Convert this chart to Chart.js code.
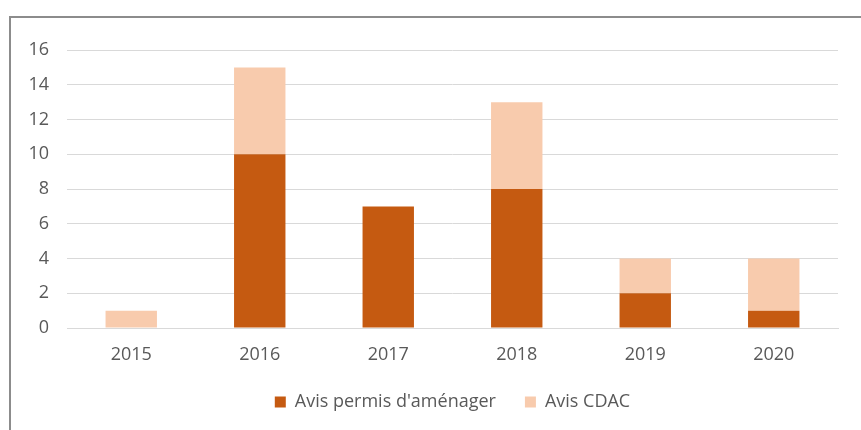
<!DOCTYPE html>
<html>
<head>
<meta charset="utf-8">
<script src="https://cdn.jsdelivr.net/npm/chart.js@4"></script>
<style>
  html, body { margin: 0; padding: 0; background: #fff; overflow: hidden; }
  #wrap { position: relative; width: 861px; height: 430px; }
  #frame { position: absolute; left: 9px; top: 16px; width: 900px; height: 500px; border: 2px solid #8c8c8c; box-sizing: border-box; }
  canvas { position: absolute; left: 0; top: 0; }
</style>
</head>
<body>
<div id="wrap">
  <div id="frame"></div>
  <canvas id="chart" width="861" height="430"></canvas>
</div>
<script>
// Data
const years = ['2015', '2016', '2017', '2018', '2019', '2020'];
const avisPermis = [0, 10, 7, 8, 2, 1];
const avisCdac = [1, 5, 0, 5, 2, 3];
const yTicks = [0, 2, 4, 6, 8, 10, 12, 14, 16];

const textColor = '#595959';
const font = { family: "'Open Sans', sans-serif", size: 18 };

new Chart(document.getElementById('chart').getContext('2d'), {
    type: 'bar',
    data: {
        labels: years,
        datasets: [{
            label: "Avis permis d'aménager",
            data: avisPermis,
            backgroundColor: '#C55A11',
            barPercentage: 0.8,
            categoryPercentage: 0.5
        }, {
            label: 'Avis CDAC',
            data: avisCdac,
            backgroundColor: '#F8CBAD',
            barPercentage: 0.8,
            categoryPercentage: 0.5
        }]
    },
    options: {
        responsive: false,
        animation: false,
        layout: { padding: { left: 20, right: 23, top: 50, bottom: 9 } },
        plugins: {
            legend: {
                position: 'bottom',
                fullSize: false,
                labels: { color: textColor, font: font, boxWidth: 11, boxHeight: 11, padding: 29 }
            },
            tooltip: { enabled: false }
        },
        scales: {
            x: {
                stacked: true,
                grid: { display: false, tickLength: 18 },
                border: { color: '#d9d9d9' },
                ticks: { color: textColor, font: { ...font, lineHeight: 1 }, padding: 0 }
            },
            y: {
                stacked: true,
                min: 0,
                max: 16,
                afterFit: (scale) => { scale.width = 47; },
                afterBuildTicks: (scale) => { scale.ticks = yTicks.map(v => ({ value: v })); },
                grid: { color: '#d9d9d9', drawTicks: false },
                border: { display: false },
                ticks: { color: textColor, font: font, padding: 18 }
            }
        }
    }
});
</script>
</body>
</html>
